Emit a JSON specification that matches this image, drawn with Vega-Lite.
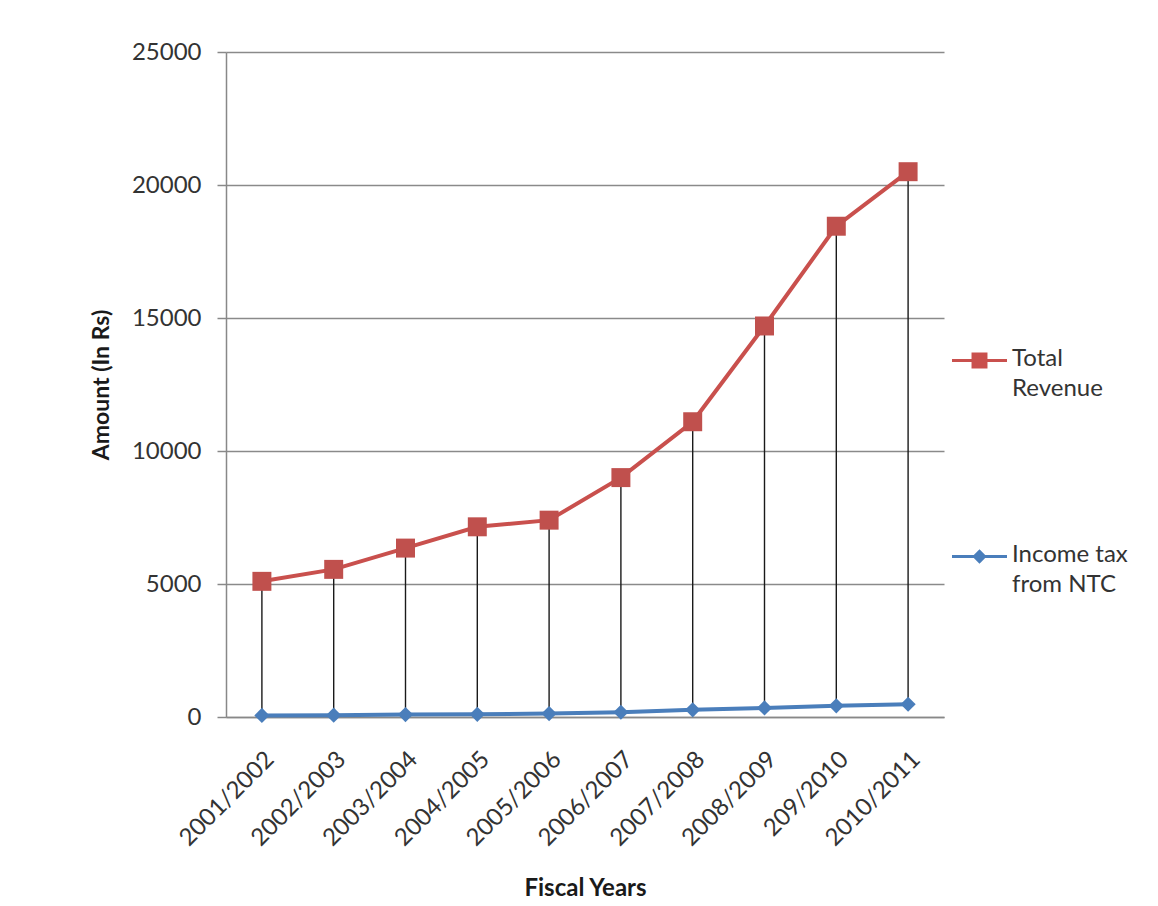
{
  "$schema": "https://vega.github.io/schema/vega-lite/v6.json",
  "width": 718,
  "height": 665,
  "autosize": {"type": "none"},
  "padding": {"left": 226, "top": 52, "right": 214, "bottom": 189},
  "background": "white",
  "config": {
    "view": {"stroke": null},
    "font": "Lato",
    "axis": {"labelFont": "Lato", "titleFont": "Lato"},
    "legend": {"labelFont": "Lato", "padding": 0}
  },
  "data": {
    "values": [
      {"year": "2001/2002", "Total Revenue": 5100, "Income tax from NTC": 60},
      {"year": "2002/2003", "Total Revenue": 5550, "Income tax from NTC": 70},
      {"year": "2003/2004", "Total Revenue": 6350, "Income tax from NTC": 90},
      {"year": "2004/2005", "Total Revenue": 7150, "Income tax from NTC": 100},
      {"year": "2005/2006", "Total Revenue": 7400, "Income tax from NTC": 130},
      {"year": "2006/2007", "Total Revenue": 9000, "Income tax from NTC": 180},
      {"year": "2007/2008", "Total Revenue": 11100, "Income tax from NTC": 270},
      {"year": "2008/2009", "Total Revenue": 14700, "Income tax from NTC": 340},
      {"year": "209/2010", "Total Revenue": 18450, "Income tax from NTC": 420},
      {"year": "2010/2011", "Total Revenue": 20500, "Income tax from NTC": 480}
    ]
  },
  "encoding": {
    "x": {
      "field": "year",
      "type": "nominal",
      "sort": null,
      "scale": {"paddingInner": 0, "paddingOuter": 0},
      "axis": {
        "title": "Fiscal Years",
        "titleFontSize": 24,
        "titleFontWeight": "bold",
        "titleColor": "#1a1a1a",
        "titlePadding": 26,
        "labelAngle": -45,
        "labelFontSize": 24,
        "labelColor": "#333333",
        "labelPadding": 30,
        "ticks": false,
        "grid": false,
        "domainColor": "#888888",
        "domainWidth": 1.5
      }
    }
  },
  "layer": [
    {
      "mark": {"type": "rule", "color": "#1a1a1a", "strokeWidth": 1.4},
      "encoding": {
        "y": {
          "field": "Total Revenue",
          "type": "quantitative",
          "scale": {"domain": [0, 25000], "nice": false},
          "axis": {
            "title": "Amount (In Rs)",
            "titleFontSize": 23,
            "titleFontWeight": "bold",
            "titleColor": "#1a1a1a",
            "titlePadding": 18,
            "values": [0, 5000, 10000, 15000, 20000, 25000],
            "format": "d",
            "labelFontSize": 24,
            "labelColor": "#333333",
            "labelPadding": 16,
            "tickSize": 9,
            "tickColor": "#888888",
            "tickWidth": 1.5,
            "domainColor": "#888888",
            "domainWidth": 1.5,
            "grid": true,
            "gridColor": "#8a8a8a",
            "gridWidth": 1.5
          }
        },
        "y2": {"field": "Income tax from NTC"}
      }
    },
    {
      "transform": [{"fold": ["Total Revenue", "Income tax from NTC"], "as": ["series", "amount"]}],
      "layer": [
        {
          "mark": {"type": "line", "strokeWidth": 4},
          "encoding": {
            "y": {"field": "amount", "type": "quantitative"},
            "color": {
              "field": "series",
              "type": "nominal",
              "scale": {"domain": ["Total Revenue", "Income tax from NTC"], "range": ["#C9504D", "#4A7EBB"]},
              "legend": {
                "orient": "none",
                "legendX": 726,
                "legendY": 281,
                "title": null,
                "labelExpr": "datum.value == 'Total Revenue' ? ['Total', 'Revenue'] : ['Income tax', 'from NTC']",
                "labelFontSize": 24,
                "labelColor": "#333333",
                "labelLimit": 250,
                "labelOffset": 5,
                "labelBaseline": "top",
                "symbolSize": 3025,
                "rowPadding": 128,
                "encode": {
                  "symbols": {
                    "update": {
                      "shape": {"signal": "datum.value == 'Total Revenue' ? 'M-1,-0.055L1,-0.055L1,0.055L-1,0.055Z M-0.29,-0.29L0.29,-0.29L0.29,0.29L-0.29,0.29Z' : 'M-1,-0.055L1,-0.055L1,0.055L-1,0.055Z M0,-0.26L0.26,0L0,0.26L-0.26,0Z'"},
                      "fill": {"scale": "color", "field": "value"},
                      "fillOpacity": {"value": 1},
                      "strokeWidth": {"value": 0}
                    }
                  },
                  "labels": {
                    "update": {
                      "lineHeight": {"value": 30},
                      "dy": {"value": -14}
                    }
                  }
                }
              }
            }
          }
        },
        {
          "transform": [{"filter": "datum.series == 'Total Revenue'"}],
          "mark": {"type": "point", "shape": "square", "filled": true, "opacity": 1, "size": 360, "color": "#C0504D"},
          "encoding": {"y": {"field": "amount", "type": "quantitative"}}
        },
        {
          "transform": [{"filter": "datum.series == 'Income tax from NTC'"}],
          "mark": {"type": "point", "shape": "diamond", "filled": true, "opacity": 1, "size": 230, "color": "#4A7EBB"},
          "encoding": {"y": {"field": "amount", "type": "quantitative"}}
        }
      ]
    }
  ]
}
